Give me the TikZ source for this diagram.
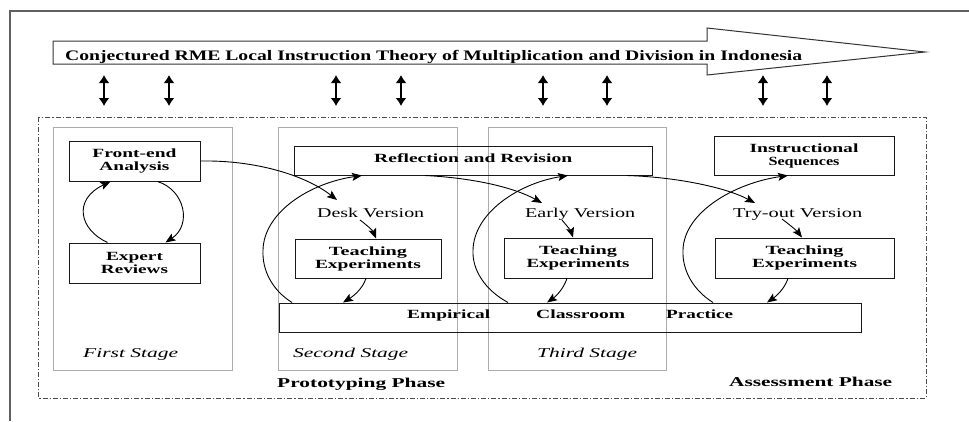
\documentclass[tikz,border=0pt]{standalone}
\usepackage{fontspec}
\usepackage{graphicx}
\setmainfont{Liberation Serif}
\usetikzlibrary{arrows.meta}

% set a text line to a given width (in pt), keeping its height
\newcommand\fitw[2]{\resizebox{#1pt}{\height}{#2}}

\tikzset{
  boxnode/.style={draw=black!90, line width=1pt, inner sep=0pt, align=center,
    font=\fontsize{12.5}{13}\selectfont\bfseries},
  stagebox/.style={draw=gray!65, line width=0.8pt},
  phasebox/.style={draw=gray!60!black, line width=0.9pt,
    dash pattern=on 5pt off 2pt on 1.2pt off 2pt},
  lbl/.style={inner sep=0pt, anchor=base west},
  conn/.style={line width=0.9pt, -{Stealth[length=10pt,width=8pt,inset=2pt]}},
  dblarrow/.style={line width=1.8pt,
    {Latex[length=8pt,width=11pt]}-{Latex[length=8pt,width=11pt]}},
  frameline/.style={draw=gray!75!black, line width=1.3pt},
}

\begin{document}
\begin{tikzpicture}[x=1pt,y=-1pt]
\useasboundingbox (0,0) rectangle (969,421);
\fill[white] (0,0) rectangle (969,421);

% page frame
\draw[frameline] (10,421) -- (10,11) -- (969,11);

% the long arrow carrying the theory
\draw[draw=black!80, line width=1pt]
  (53,41) -- (707,41) -- (707,28) -- (925,52) -- (707,75) -- (707,64) -- (53,64) -- cycle;
\node[lbl, font=\fontsize{14.5}{15}\selectfont\bfseries] (title) at (65,60)
  {\fitw{737}{Conjectured RME Local Instruction Theory of Multiplication and Division in Indonesia}};

% two-way links between the theory and the phases
\foreach \x [count=\i] in {104,169,336,401,543,607,763,827} {
  \coordinate (up\i) at (\x,75);
  \coordinate (dn\i) at (\x,106);
  \draw[dblarrow] (up\i) -- (dn\i);
}

% phases and stages
\draw[phasebox] (38,117) rectangle (926,398);
\draw[stagebox] (53,127) rectangle (232,370);
\draw[stagebox] (278,127) rectangle (457,370);
\draw[stagebox] (488,127) rectangle (666,370);

% boxes
\node[boxnode, minimum width=131pt, minimum height=40pt] (fe) at (134.5,161)
  {\fitw{84}{Front-end}\\\fitw{70}{Analysis}};
\node[boxnode, minimum width=131pt, minimum height=40pt] (er) at (134.5,263)
  {\fitw{57}{Expert}\\\fitw{67}{Reviews}};
\node[boxnode, minimum width=358pt, minimum height=29pt] (rr) at (473,160.5) {};
\node[lbl, font=\fontsize{12.5}{13}\selectfont\bfseries] (rrtext) at (374,162)
  {\fitw{198}{Reflection and Revision}};
\node[boxnode, minimum width=146pt, minimum height=39pt] (te2) at (368,258.5)
  {\fitw{78}{Teaching}\\\fitw{106}{Experiments}};
\node[boxnode, minimum width=148pt, minimum height=40pt] (te3) at (578,258)
  {\fitw{78}{Teaching}\\\fitw{103}{Experiments}};
\node[boxnode, minimum width=180pt, minimum height=39pt] (is) at (804,155.5)
  {\fitw{109}{Instructional}\\\fitw{71}{Sequences}};
\node[boxnode, minimum width=179pt, minimum height=40pt] (te4) at (804.5,258)
  {\fitw{78}{Teaching}\\\fitw{105}{Experiments}};
\node[boxnode, minimum width=582pt, minimum height=29pt] (emp) at (570,317.5) {};

% versions
\node[lbl, font=\fontsize{13.5}{14}\selectfont] (dv) at (317,217) {\fitw{107}{Desk Version}};
\node[lbl, font=\fontsize{13.5}{14}\selectfont] (ev) at (525,217) {\fitw{110}{Early Version}};
\node[lbl, font=\fontsize{13.5}{14}\selectfont] (tv) at (733,217) {\fitw{129}{Try-out Version}};

% words across the classroom band
\node[lbl, font=\fontsize{12.5}{13}\selectfont\bfseries] (w1) at (407,318) {\fitw{83}{Empirical}};
\node[lbl, font=\fontsize{12.5}{13}\selectfont\bfseries] (w2) at (536,318) {\fitw{89}{Classroom}};
\node[lbl, font=\fontsize{12.5}{13}\selectfont\bfseries] (w3) at (666,318) {\fitw{67}{Practice}};

% stage and phase names
\node[lbl, font=\fontsize{13.5}{14}\selectfont\itshape] (s1) at (83,357) {\fitw{95}{First Stage}};
\node[lbl, font=\fontsize{13.5}{14}\selectfont\itshape] (s2) at (293,357) {\fitw{115}{Second Stage}};
\node[lbl, font=\fontsize{13.5}{14}\selectfont\itshape] (s3) at (537,357) {\fitw{100}{Third Stage}};
\node[lbl, font=\fontsize{13.5}{14}\selectfont\bfseries] (p1) at (277,387) {\fitw{168}{Prototyping Phase}};
\node[lbl, font=\fontsize{13.5}{14}\selectfont\bfseries] (p2) at (729,386) {\fitw{163}{Assessment Phase}};

% arrow ends next to the version labels
\coordinate (dvin) at (337,200);
\coordinate (dvout) at (360,220);
\coordinate (evin) at (542,203);
\coordinate (evout) at (562,220);
\coordinate (tvin) at (755,203);
\coordinate (tvout) at (782,219);

% first stage cycle
\draw[conn] ([xshift=-27pt]er.north) .. controls (80,230) and (72,200) .. ([xshift=-24pt]fe.south);
\draw[conn] ([xshift=23pt]fe.south) .. controls (185,190) and (192,225) .. ([xshift=31pt]er.north);

% second stage
\draw[conn] (fe.east) .. controls (255,160) and (305,175) .. (dvin);
\draw[conn] (dvout) .. controls (368,226) and (373,231) .. ([xshift=8pt]te2.north);
\draw[conn] ([xshift=-2pt]te2.south) .. controls (362,290) and (352,297) .. ([xshift=-227pt]emp.north);
\draw[conn] ([xshift=-278pt]emp.north) .. controls (272,290) and (262,270) .. (263,250)
  .. controls (264,212) and (310,183) .. ([xshift=-111pt]rr.south);

% third stage
\draw[conn] ([xshift=-48pt]rr.south) .. controls (475,178) and (515,188) .. (evin);
\draw[conn] (evout) .. controls (567,226) and (571,231) .. ([xshift=-5pt]te3.north);
\draw[conn] ([xshift=-11pt]te3.south) .. controls (563,290) and (555,297) .. ([xshift=-23pt]emp.north);
\draw[conn] ([xshift=-62pt]emp.north) .. controls (485,290) and (472,270) .. (473,250)
  .. controls (474,212) and (520,183) .. ([xshift=95pt]rr.south);

% assessment phase
\draw[conn] ([xshift=154pt]rr.south) .. controls (675,177) and (725,187) .. (tvin);
\draw[conn] (tvout) .. controls (790,225) and (797,231) .. ([xshift=-2.5pt]te4.north);
\draw[conn] ([xshift=-16.5pt]te4.south) .. controls (784,290) and (775,297) .. ([xshift=197pt]emp.north);
\draw[conn] ([xshift=143pt]emp.north) .. controls (693,290) and (682,270) .. (683,250)
  .. controls (684,212) and (735,183) .. ([xshift=-16pt]is.south);
\end{tikzpicture}
\end{document}
